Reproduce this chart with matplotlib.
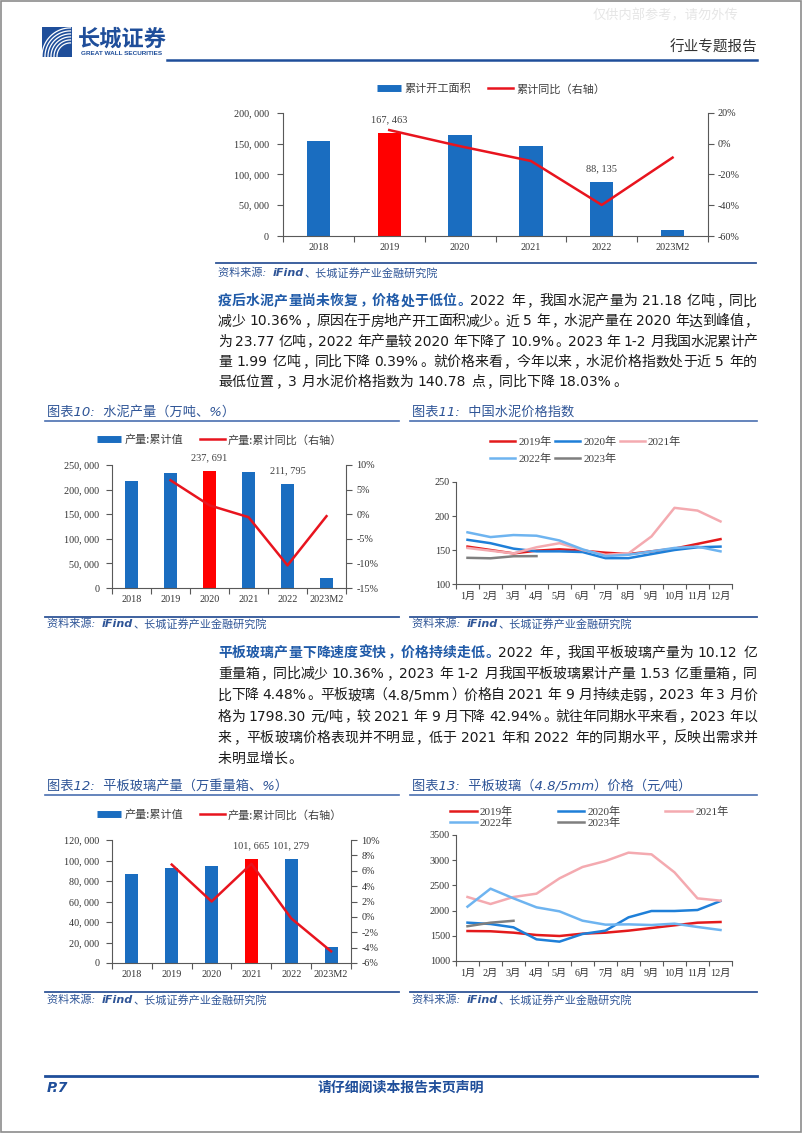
import numpy as np
import matplotlib
matplotlib.use('Agg')
import matplotlib.pyplot as plt
from matplotlib.lines import Line2D
from matplotlib.patches import Rectangle
from matplotlib.ticker import FuncFormatter

W, H = 802, 1133
CJK = 'Noto Sans CJK SC'
SERIF = ['Liberation Serif', CJK]
BODY = ['DejaVu Sans', CJK]
plt.rcParams['font.family'] = [CJK, 'DejaVu Sans']

NAVY = '#1F4E9A'
CAP_BLUE = '#2F5597'
HEAD_BLUE = '#1F5AA8'
BAR_BLUE = '#1A6DC0'
BAR_RED = '#FF0000'
LINE_RED = '#E8141E'
AXIS = '#595959'
TICK_TXT = '#333333'

# ---- data ----
years = ['2018', '2019', '2020', '2021', '2022', '2023M2']

start_area = [153700, 167463, 164000, 146000, 88135, 9000]
start_yoy = [np.nan, 8.9, -1.6, -11.2, -39.8, -9.0]

cement_out = [218000, 233700, 237691, 235000, 211795, 19800]
cement_yoy = [np.nan, 6.9, 1.8, -0.6, -10.4, -0.4]

glass_out = [87000, 93000, 94600, 101665, 101279, 15300]
glass_yoy = [np.nan, 6.8, 2.0, 6.9, -0.2, -4.48]

months = ['1月', '2月', '3月', '4月', '5月', '6月', '7月', '8月', '9月', '10月', '11月', '12月']
series_names = ['2019年', '2020年', '2021年', '2022年', '2023年']
series_colors = ['#E31A1C', '#1E7FD8', '#F4AAB0', '#6EB4F0', '#7F7F7F']

cement_idx = [
    [155, 150, 145, 149, 151, 149, 146, 144, 148, 152, 159, 166],
    [165, 160, 152, 148, 148, 147, 138, 138, 144, 150, 154, 155],
    [153, 149, 145, 154, 160, 150, 143, 145, 170, 212, 208, 192],
    [176, 169, 172, 171, 164, 151, 141, 143, 148, 153, 155, 148],
    [138.5, 137.8, 140.8, 141],
]

glass_price = [
    [1595, 1590, 1562, 1516, 1496, 1542, 1562, 1602, 1655, 1708, 1760, 1774],
    [1761, 1734, 1668, 1430, 1384, 1536, 1602, 1866, 1992, 1992, 2012, 2190],
    [2270, 2131, 2270, 2336, 2640, 2865, 2984, 3150, 3116, 2759, 2243, 2197],
    [2078, 2435, 2243, 2065, 1985, 1800, 1721, 1727, 1714, 1741, 1675, 1615],
    [1690, 1760, 1798],
]

p1_head = '疫后水泥产量尚未恢复，价格处于低位。'
p1_lines = [
    '2022 年，我国水泥产量为 21.18 亿吨，同比',
    '减少 10.36%，原因在于房地产开工面积减少。近 5 年，水泥产量在 2020 年达到峰值，',
    '为 23.77 亿吨，2022 年产量较 2020 年下降了 10.9%。2023 年 1-2 月我国水泥累计产',
    '量 1.99 亿吨，同比下降 0.39%。就价格来看，今年以来，水泥价格指数处于近 5 年的',
    '最低位置，3 月水泥价格指数为 140.78 点，同比下降 18.03%。',
]
p2_head = '平板玻璃产量下降速度变快，价格持续走低。'
p2_lines = [
    '2022 年，我国平板玻璃产量为 10.12 亿',
    '重量箱，同比减少 10.36%，2023 年 1-2 月我国平板玻璃累计产量 1.53 亿重量箱，同',
    '比下降 4.48%。平板玻璃（4.8/5mm）价格自 2021 年 9 月持续走弱，2023 年 3 月价',
    '格为 1798.30 元/吨，较 2021 年 9 月下降 42.94%。就往年同期水平来看，2023 年以',
    '来，平板玻璃价格表现并不明显，低于 2021 年和 2022 年的同期水平，反映出需求并',
    '未明显增长。',
]

fig = plt.figure(figsize=(W / 100, H / 100), dpi=100)
renderer = fig.canvas.get_renderer()


def fx(x):
    return x / W


def fy(y):
    return 1 - y / H


def px_axes(l, t, r, b):
    return fig.add_axes([l / W, 1 - b / H, (r - l) / W, (b - t) / H])


def hline(x0, x1, y, color, lw):
    fig.add_artist(Line2D([fx(x0), fx(x1)], [fy(y), fy(y)], color=color, lw=lw,
                          transform=fig.transFigure))


def text_width(s, size, family, weight='normal'):
    t = fig.text(0, 0, s, fontsize=size, family=family, weight=weight)
    w = t.get_window_extent(renderer).width
    t.remove()
    return w


def body_line(y, segs, justify=True, x0=218, x1=757, size=10):
    em = size * 100 / 72
    toks = []
    for text, color, weight in segs:
        run = ''
        for ch in text + '\0':
            if ch != '\0' and ch != ' ' and ord(ch) < 0x2E80:
                run += ch
                continue
            if run:
                toks.append((run, color, weight, text_width(run, size, BODY, weight) + 1, 'a'))
                run = ''
            if ch == ' ':
                toks.append((' ', color, weight, 0.32 * em, 's'))
            elif ch != '\0':
                toks.append((ch, color, weight, em, 'c'))
    natural = sum(t[3] for t in toks)
    gap = (x1 - x0 - natural) / (len(toks) - 1) if justify else 0
    x = x0
    base = fy(y + 0.38 * em)
    for text, color, weight, w, kind in toks:
        kw = dict(fontsize=size, family=BODY, weight=weight, color=color, va='baseline')
        if kind == 'a':
            fig.text(fx(x), base, text, ha='left', **kw)
        elif kind == 'c':
            if text in '，。、：；）':
                fig.text(fx(x + 0.08 * em), base, text, ha='left', **kw)
            elif text == '（':
                fig.text(fx(x + w - 0.08 * em), base, text, ha='right', **kw)
            else:
                fig.text(fx(x + w / 2), base, text, ha='center', **kw)
        x += w + gap


def paragraph(y0, step, head, lines):
    for i, line in enumerate(lines):
        segs = [(line, '#1A1A1A', 'normal')]
        if i == 0:
            segs = [(head, HEAD_BLUE, 'bold')] + segs
        body_line(y0 + i * step, segs, justify=(i < len(lines) - 1))


def source(x, y, x0, x1, line_y):
    hline(x0, x1, line_y, CAP_BLUE, 1.3)
    parts = [('资料来源: ', 'normal'), ('iFind', 'bold'), ('、长城证券产业金融研究院', 'normal')]
    for s, wgt in parts:
        fig.text(fx(x), fy(y), s, fontsize=8, family=['DejaVu Sans', CJK], weight=wgt,
                 color=CAP_BLUE, ha='left', va='center', style='italic')
        x += text_width(s, 8, ['DejaVu Sans', CJK], wgt) + (3 if s.endswith(' ') else 1)


def caption(x, y, s, x0, x1, line_y):
    fig.text(fx(x), fy(y), s, fontsize=9.5, family=['DejaVu Sans', CJK], color=CAP_BLUE,
             ha='left', va='center', style='italic')
    hline(x0, x1, line_y, '#4A6FB0', 1.2)


def style_axis(ax):
    for s in ['top', 'right']:
        ax.spines[s].set_visible(False)
    for s in ['left', 'bottom']:
        ax.spines[s].set_color(AXIS)
        ax.spines[s].set_linewidth(0.8)


def sep(v, p=None):
    return f'{int(round(v)):,}'.replace(',', ', ')


def combo(rect, vals, yoy, hi, ymax, ystep, rlim, rstep, labels_at, names, leg_x, leg_y,
          colsp, lpad, rpad):
    ax = px_axes(*rect)
    x = np.arange(len(years))
    ax.bar(x, vals, width=0.33, color=[BAR_RED if i == hi else BAR_BLUE for i in x], zorder=2)
    ax.set_xlim(-0.5, len(years) - 0.5)
    ax.set_ylim(0, ymax)
    ax.set_yticks(np.arange(0, ymax + 1, ystep))
    ax.yaxis.set_major_formatter(FuncFormatter(sep))
    ax.set_xticks(x)
    ax.set_xticklabels(years)
    ax.set_xticks(np.arange(-0.5, len(years)), minor=True)
    ax.tick_params(axis='x', which='major', length=0, pad=5, labelsize=7.3, labelcolor=TICK_TXT)
    ax.tick_params(axis='x', which='minor', length=4, direction='out', color=AXIS, width=0.8)
    ax.tick_params(axis='y', length=4, direction='out', color=AXIS, width=0.8, pad=lpad,
                   labelsize=7.3, labelcolor=TICK_TXT)
    for lab in ax.get_xticklabels() + ax.get_yticklabels():
        lab.set_family(SERIF)
    style_axis(ax)
    ax.patch.set_alpha(0)

    ax2 = ax.twinx()
    ax2.plot(x, yoy, color=LINE_RED, lw=1.8)
    ax2.set_ylim(*rlim)
    ax2.set_yticks(np.arange(rlim[0], rlim[1] + 0.01, rstep))
    ax2.yaxis.set_major_formatter(FuncFormatter(lambda v, p: f'{v:.0f}%'))
    ax2.tick_params(axis='y', length=4, direction='out', color=AXIS, width=0.8, pad=rpad,
                    labelsize=7.3, labelcolor=TICK_TXT)
    for lab in ax2.get_yticklabels():
        lab.set_family(SERIF)
    for s in ['top', 'left', 'bottom']:
        ax2.spines[s].set_visible(False)
    ax2.spines['right'].set_color(AXIS)
    ax2.spines['right'].set_linewidth(0.8)

    for i in labels_at:
        ax.annotate(sep(vals[i]), (x[i], vals[i]), xytext=(0, 9.5), textcoords='offset points',
                    ha='center', va='center', fontsize=7.5, family=SERIF, color='#404040')

    handles = [Line2D([], [], color=BAR_BLUE, lw=5, solid_capstyle='butt'),
               Line2D([], [], color=LINE_RED, lw=1.8)]
    fig.legend(handles, names, loc='center left', bbox_to_anchor=(fx(leg_x), fy(leg_y)),
               ncol=2, frameon=False, prop={'family': [CJK], 'size': 8}, labelcolor='#404040',
               handlelength=2.2, handletextpad=0.3, columnspacing=colsp, borderpad=0,
               borderaxespad=0)
    return ax


def lines_chart(rect, data, ylo, yhi, ystep, leg_x, leg_y, colsp, rowsp, hlen):
    ax = px_axes(*rect)
    x = np.arange(len(months))
    handles = []
    for vals, name, c in zip(data, series_names, series_colors):
        h, = ax.plot(x[:len(vals)], vals, color=c, lw=1.8, label=name)
        handles.append(h)
    ax.set_xlim(-0.5, len(months) - 0.5)
    ax.set_ylim(ylo, yhi)
    ax.set_yticks(np.arange(ylo, yhi + 1, ystep))
    ax.set_xticks(x)
    ax.set_xticklabels(months)
    ax.set_xticks(np.arange(-0.5, len(months)), minor=True)
    ax.tick_params(axis='x', which='major', length=0, pad=5.5, labelsize=7.3, labelcolor=TICK_TXT)
    ax.tick_params(axis='x', which='minor', length=3.5, direction='out', color=AXIS, width=0.8)
    ax.tick_params(axis='y', length=3, direction='out', color=AXIS, width=0.8, pad=1.5,
                   labelsize=7.3, labelcolor=TICK_TXT)
    for lab in ax.get_xticklabels() + ax.get_yticklabels():
        lab.set_family(SERIF)
    style_axis(ax)
    ax.patch.set_alpha(0)
    order = [0, 3, 1, 4, 2]
    fig.legend([handles[i] for i in order], [series_names[i] for i in order], loc='center left',
               bbox_to_anchor=(fx(leg_x), fy(leg_y)), ncol=3, frameon=False,
               prop={'family': SERIF, 'size': 8}, labelcolor='#404040', handlelength=hlen,
               handletextpad=0.3, columnspacing=colsp, labelspacing=rowsp, borderpad=0,
               borderaxespad=0)
    return ax


# ---- page frame & header ----
fig.add_artist(Rectangle((0.001, 0.001), 0.998, 0.998, fill=False, edgecolor='#8C8C8C', lw=1.2,
                         transform=fig.transFigure))
fig.text(fx(593), fy(16), '仅供内部参考，请勿外传', fontsize=9.5, color='#E6E6E6', ha='left', va='center')

logo = px_axes(42, 27, 72, 57)
logo.set_xlim(0, 1)
logo.set_ylim(0, 1)
logo.axis('off')
logo.add_patch(Rectangle((0, 0), 1, 1, color=NAVY))
t = np.linspace(np.pi / 2, np.pi, 40)
for r in [0.45, 0.55, 0.65, 0.75, 0.85, 0.95]:
    logo.plot(0.95 + r * np.cos(t), 0.02 + r * np.sin(t), color='white', lw=0.9, clip_on=True)
fig.text(fx(78), fy(39), '长城证券', fontsize=16, weight='bold', color=NAVY, ha='left', va='center')
fig.text(fx(81), fy(53.5), 'GREAT WALL SECURITIES', fontsize=4.6, family='Liberation Sans',
         weight='bold', color=NAVY, ha='left', va='center')
fig.text(fx(757), fy(48), '行业专题报告', fontsize=10.5, color='#333333', ha='right', va='center')
hline(167, 757, 59.5, NAVY, 1.8)

# ---- chart: 新开工面积 ----
combo((283, 113, 708, 236), start_area, start_yoy, 1, 200000, 50000, (-60, 20), 20, [1, 4],
      ['累计开工面积', '累计同比（右轴）'], 377, 89, 1.5, 6, 3)
source(218, 273, 216, 756, 263)

# ---- paragraph 1 ----
paragraph(300, 20.2, p1_head, p1_lines)

# ---- 图表10 / 11 ----
caption(47, 412, '图表10:  水泥产量（万吨、%）', 45, 399, 421)
caption(412, 412, '图表11:  中国水泥价格指数', 410, 757, 421)
combo((112, 465, 346, 588), cement_out, cement_yoy, 2, 250000, 50000, (-15, 10), 5, [2, 4],
      ['产量:累计值', '产量:累计同比（右轴）'], 97, 440, 1.5, 5, 3.5)
lines_chart((456, 482, 732, 584), cement_idx, 100, 250, 50, 490, 450, 0.3, 0.6, 2.25)
source(47, 624, 45, 399, 617)
source(412, 624, 410, 757, 617)

# ---- paragraph 2 ----
paragraph(651.7, 21.2, p2_head, p2_lines)

# ---- 图表12 / 13 ----
caption(47, 786, '图表12:  平板玻璃产量（万重量箱、%）', 45, 399, 795)
caption(412, 786, '图表13:  平板玻璃（4.8/5mm）价格（元/吨）', 410, 757, 795)
combo((112, 840, 351, 963), glass_out, glass_yoy, 3, 120000, 20000, (-6, 10), 2, [3, 4],
      ['产量:累计值', '产量:累计同比（右轴）'], 97, 815, 1.5, 5, 3.5)
lines_chart((456, 835, 732, 961), glass_price, 1000, 3500, 500, 450, 817.5, 4.0, 0.05, 2.4)
source(47, 1000, 45, 399, 992)
source(412, 1000, 410, 757, 992)

# ---- footer ----
hline(45, 757, 1076, NAVY, 2.0)
fig.text(fx(47), fy(1088), 'P.7', fontsize=10, weight='bold', style='italic', family='DejaVu Sans',
         color=NAVY, ha='left', va='center')
fig.text(fx(401), fy(1088), '请仔细阅读本报告末页声明', fontsize=10, weight='bold', color=NAVY,
         ha='center', va='center')

fig.savefig('out.png', dpi=100)
